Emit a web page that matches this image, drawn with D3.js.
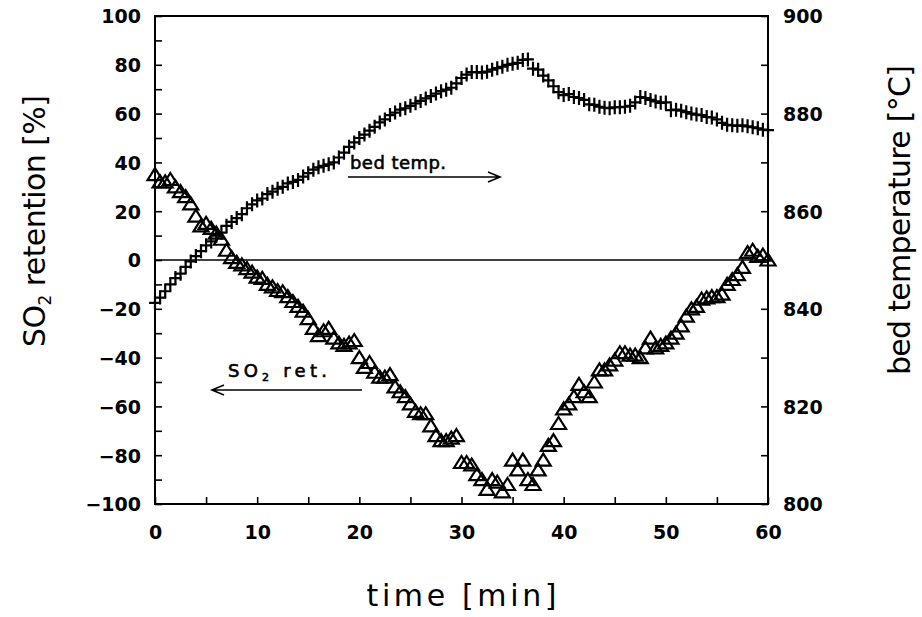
<!DOCTYPE html>
<meta charset="utf-8">
<style>
body { margin: 0; background: #fff; }
svg text { fill: #000; }
.tick-label { font-family: "DejaVu Sans", sans-serif; font-weight: bold; font-size: 19px; }
.title { font-family: "DejaVu Sans", sans-serif; font-size: 30px; }
svg text.note { font-family: "DejaVu Sans", sans-serif; font-size: 18px; stroke: #000; stroke-width: 0.6px; }
</style>
<body>
<script src="https://d3js.org/d3.v7.min.js"></script>
<script>

// time axis, minutes (one reading every half minute)
var times = d3.range(0, 60.5, 0.5);

var bedTemp = [
  841.2, 842.3, 843.6, 845.0, 846.3, 847.2, 848.6, 849.7, 850.8, 851.8,
  853.0, 853.8, 855.0, 855.6, 857.0, 857.8, 858.6, 859.4, 860.6, 861.4,
  862.2, 862.6, 863.5, 864.0, 864.6, 865.0, 865.7, 866.0, 866.4, 867.1,
  867.8, 868.5, 869.0, 869.3, 869.6, 870.0, 871.0, 872.0, 873.2, 874.1,
  875.0, 875.7, 876.5, 877.3, 878.2, 878.8, 879.7, 880.2, 880.8, 881.1,
  881.6, 882.1, 882.6, 883.1, 883.6, 884.1, 884.6, 884.9, 885.3, 886.2,
  887.3, 888.0, 888.5, 888.5, 888.4, 888.6, 889.0, 889.3, 889.6, 890.0,
  890.2, 890.4, 891.0, 891.1, 889.2, 889.0, 887.8, 886.8, 885.6, 884.4,
  883.8, 884.0, 883.4, 883.2, 882.8, 881.9, 881.8, 881.4, 881.2, 881.1,
  881.3, 881.3, 881.4, 881.6, 882.3, 883.4, 883.2, 882.8, 882.5, 882.2,
  882.3, 880.7, 880.8, 880.6, 880.3, 880.0, 879.8, 879.7, 879.3, 879.2,
  878.8, 878.1, 877.7, 877.6, 877.5, 877.6, 877.4, 877.2, 877.0, 876.7,
  876.6
];

// SO2 retention [%]
var so2Ret = [
  35, 32, 32, 33, 30, 28, 26, 23, 18, 14,
  15, 13, 11, 8.5, 4, 1, -1, -2, -3.5, -5,
  -7, -7.5, -10, -11, -12.5, -13, -15, -17, -19, -21,
  -24, -28, -31, -29, -28, -32, -34, -35, -34, -33,
  -40, -44, -42, -46, -48, -48, -47, -52, -54, -56,
  -59, -62, -63, -63, -68, -72, -74, -74, -73, -72,
  -83, -83, -84, -88, -90, -94, -90, -91, -95, -92,
  -82, -86, -82, -90, -92, -86, -82, -76, -74, -67,
  -61, -59, -56, -51, -54, -56, -50, -45, -45, -43,
  -41, -38, -38, -39, -39, -40, -36, -32, -36, -35,
  -34, -32, -30, -27, -23, -20, -19, -16, -15.5, -15,
  -15, -14, -10, -8, -6, -3, 3, 4, 1.5, 2,
  0
];

var leftTicks = d3.range(-100, 101, 10);
var rightTicks = d3.range(800, 901, 10);
var bottomTicks = d3.range(0, 61, 5);

var width = 922, height = 617;
var x0 = 155, x1 = 768, yTop = 16, yBot = 504;

var svg = d3.select("body").append("svg")
    .attr("width", width)
    .attr("height", height);

var x = d3.scaleLinear().domain([0, 60]).range([x0, x1]);
var yL = d3.scaleLinear().domain([-100, 100]).range([yBot, yTop]);
var yR = d3.scaleLinear().domain([800, 900]).range([yBot, yTop]);

// axes - ticks point into the plot
var fmt = d3.format("d");

var axL = svg.append("g")
    .attr("transform", `translate(${x0},0)`)
    .call(d3.axisLeft(yL).tickValues(leftTicks).tickSizeInner(-7).tickSizeOuter(0)
      .tickPadding(14).tickFormat(d => d % 20 === 0 ? fmt(d) : ""));

var axR = svg.append("g")
    .attr("transform", `translate(${x1},0)`)
    .call(d3.axisRight(yR).tickValues(rightTicks).tickSizeInner(-7).tickSizeOuter(0)
      .tickPadding(15).tickFormat(d => d % 20 === 0 ? fmt(d) : ""));

var axB = svg.append("g")
    .attr("transform", `translate(0,${yBot})`)
    .call(d3.axisBottom(x).tickValues(bottomTicks).tickSizeInner(-7).tickSizeOuter(0)
      .tickPadding(22).tickFormat(d => d % 10 === 0 ? fmt(d) : ""));

[axL, axR, axB].forEach(function(g) {
  g.select(".domain").remove();
  g.selectAll(".tick line").attr("stroke", "#000").attr("stroke-width", 1.6);
  g.selectAll(".tick text").attr("class", "tick-label").attr("fill", "#000");
});
axL.selectAll(".tick text").attr("dy", "0.36em");
axR.selectAll(".tick text").attr("dy", "0.36em");

// frame
svg.append("rect")
    .attr("x", x0).attr("y", yTop)
    .attr("width", x1 - x0).attr("height", yBot - yTop)
    .attr("fill", "none").attr("stroke", "#000").attr("stroke-width", 2);

// zero line
svg.append("line")
    .attr("x1", x0).attr("x2", x1)
    .attr("y1", yL(0)).attr("y2", yL(0))
    .attr("stroke", "#000").attr("stroke-width", 1.6);

// markers
var plusPath = "M-6,0H6M0,-7V7";
var triPath = "M0,-6.5L7.5,5.5H-7.5Z";

svg.append("g").selectAll("path")
    .data(times.map((t, i) => [t, bedTemp[i]]))
  .enter().append("path")
    .attr("transform", d => `translate(${x(d[0])},${yR(d[1])})`)
    .attr("d", plusPath)
    .attr("fill", "none").attr("stroke", "#000").attr("stroke-width", 2.2);

svg.append("g").selectAll("path")
    .data(times.map((t, i) => [t, so2Ret[i]]))
  .enter().append("path")
    .attr("transform", d => `translate(${x(d[0])},${yL(d[1])})`)
    .attr("d", triPath)
    .attr("fill", "none").attr("stroke", "#000").attr("stroke-width", 2.2)
    .attr("stroke-linejoin", "miter");

// annotations with arrows
function arrow(xa, xb, y) {
  // line from xa to xb, open head at xb
  var dir = xb > xa ? -1 : 1;
  svg.append("path")
    .attr("d", `M${xa},${y}H${xb}M${xb + dir * 12},${y - 5}L${xb},${y}L${xb + dir * 12},${y + 5}`)
    .attr("fill", "none").attr("stroke", "#000").attr("stroke-width", 1.6);
}

svg.append("text").attr("class", "note")
    .attr("x", 350).attr("y", 169)
    .attr("textLength", 96).attr("lengthAdjust", "spacing")
    .text("bed temp.");
arrow(348, 500, 177);

var so2Note = svg.append("text").attr("class", "note")
    .attr("x", 228).attr("y", 377)
    .attr("textLength", 99).attr("lengthAdjust", "spacing");
so2Note.append("tspan").text("SO");
so2Note.append("tspan").attr("font-size", "11px").attr("dy", 4).text("2");
so2Note.append("tspan").attr("dy", -4).text(" ret.");
arrow(362, 212, 390);

// axis titles
svg.append("text").attr("class", "title")
    .attr("text-anchor", "middle")
    .attr("x", (x0 + x1) / 2).attr("y", 606)
    .attr("textLength", 190).attr("lengthAdjust", "spacing")
    .text("time [min]");

var lt = svg.append("text").attr("class", "title")
    .attr("text-anchor", "middle")
    .attr("transform", "translate(45,221) rotate(-90)")
    .attr("textLength", 252).attr("lengthAdjust", "spacing");
lt.append("tspan").text("SO");
lt.append("tspan").attr("font-size", "17px").attr("dy", 6).text("2");
lt.append("tspan").attr("dy", -6).text(" retention [%]");

svg.append("text").attr("class", "title")
    .attr("text-anchor", "middle")
    .attr("transform", "translate(910,220) rotate(-90)")
    .attr("textLength", 310).attr("lengthAdjust", "spacing")
    .text("bed temperature [\u00b0C]");

</script>
</body>
